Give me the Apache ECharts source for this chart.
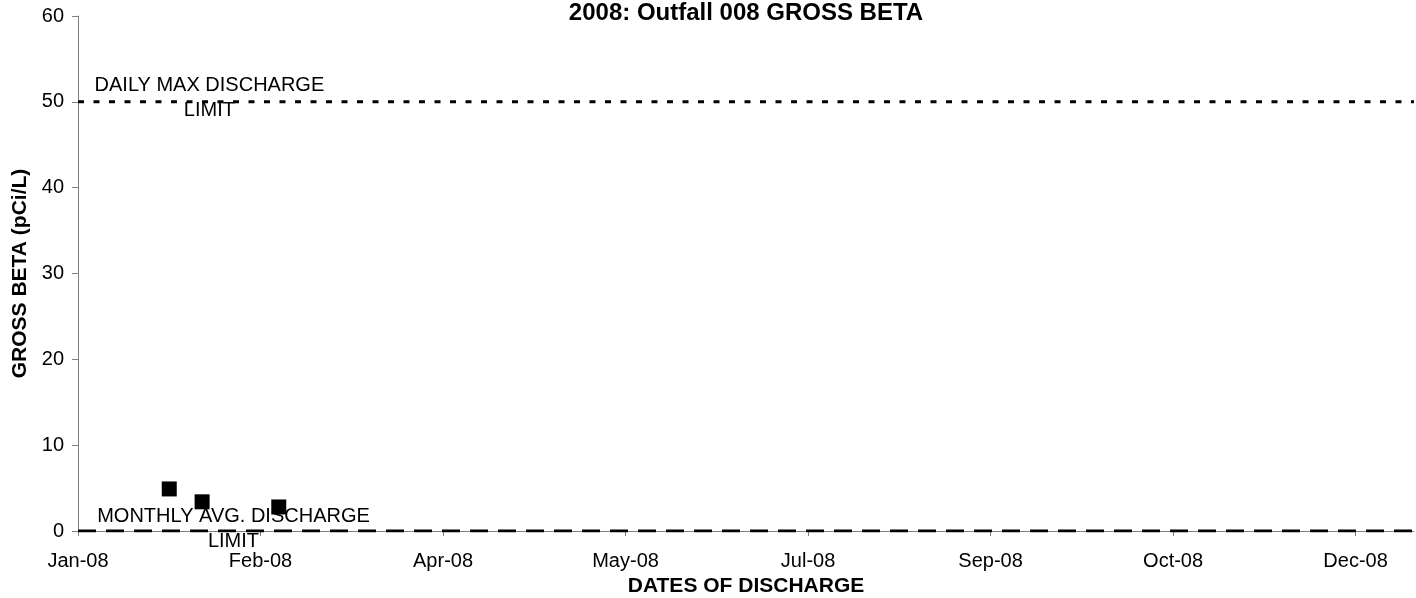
<!DOCTYPE html>
<html>
<head>
<meta charset="utf-8">
<script src="https://cdn.jsdelivr.net/npm/echarts@6/dist/echarts.min.js"></script>
<style>
  html, body { margin: 0; padding: 0; background: #fff; }
  #chart { width: 1416px; height: 598px; }
</style>
</head>
<body>
<div id="chart"></div>
<script>
// data
const sampleDates = ['2008-01-26', '2008-02-04', '2008-02-25']
const grossBeta = [4.9, 3.4, 2.8]
const xTickLabels = ['Jan-08', 'Feb-08', 'Apr-08', 'May-08', 'Jul-08', 'Sep-08', 'Oct-08', 'Dec-08']
const dailyMaxLimit = 50
const monthlyAvgLimit = 0

const FONT = '"Liberation Sans", Arial, sans-serif'
const DAY = 86400000
const start = Date.UTC(2008, 0, 1)

// days since Jan 1 2008
function dayOf(s) {
  const p = s.split('-')
  return (Date.UTC(+p[0], +p[1] - 1, +p[2]) - start) / DAY
}

const points = sampleDates.map((d, i) => [dayOf(d), grossBeta[i]])

const chart = echarts.init(document.getElementById('chart'))

// label for a limit line, centred on a day along it
const limitLabel = (txt, day, y, dy) => ({
  symbol: 'rect',
  symbolSize: 0,
  silent: true,
  data: [{
    coord: [day, y],
    label: {
      show: true,
      position: 'inside',
      offset: [0, dy],
      formatter: txt,
      color: '#000',
      fontFamily: FONT,
      fontSize: 20,
      lineHeight: 25,
      align: 'center'
    }
  }]
})

chart.setOption({
  animation: false,
  title: {
    text: '2008: Outfall 008 GROSS BETA',
    left: 741,
    top: -4,
    textAlign: 'center',
    textStyle: { fontFamily: FONT, fontSize: 24, fontWeight: 'bold', color: '#000' }
  },
  grid: { left: 78, right: 2, top: 16, bottom: 67, outerBoundsMode: 'none' },
  xAxis: {
    type: 'value',
    min: 0,
    max: 366,
    interval: 50,
    name: 'DATES OF DISCHARGE',
    nameLocation: 'middle',
    nameGap: 45,
    nameTextStyle: { fontFamily: FONT, fontSize: 21, fontWeight: 'bold', color: '#000' },
    splitLine: { show: false },
    axisLine: { lineStyle: { color: '#808080', width: 1 } },
    axisTick: { length: 5, lineStyle: { color: '#808080' } },
    axisLabel: {
      margin: 20,
      fontFamily: FONT,
      fontSize: 20,
      color: '#000',
      showMaxLabel: false,
      formatter: v => (v % 50 === 0 ? xTickLabels[v / 50] || '' : '')
    }
  },
  yAxis: {
    type: 'value',
    min: 0,
    max: 60,
    interval: 10,
    name: 'GROSS BETA (pCi/L)',
    nameLocation: 'middle',
    nameGap: 40,
    nameTextStyle: { fontFamily: FONT, fontSize: 21, fontWeight: 'bold', color: '#000' },
    splitLine: { show: false },
    axisLine: { show: true, lineStyle: { color: '#808080', width: 1 } },
    axisTick: { show: true, length: 6, lineStyle: { color: '#808080' } },
    axisLabel: { margin: 14, fontFamily: FONT, fontSize: 20, color: '#000' }
  },
  series: [
    {
      name: 'DAILY MAX DISCHARGE LIMIT',
      type: 'line',
      z: 2,
      symbol: 'none',
      data: [[0, dailyMaxLimit], [366, dailyMaxLimit]],
      lineStyle: { color: '#000', width: 3, type: [6, 9.5] },
      markPoint: limitLabel('DAILY MAX DISCHARGE\nLIMIT', 36, dailyMaxLimit, -4)
    },
    {
      name: 'MONTHLY AVG. DISCHARGE LIMIT',
      type: 'line',
      z: 2,
      symbol: 'none',
      data: [[0, monthlyAvgLimit], [366, monthlyAvgLimit]],
      lineStyle: { color: '#000', width: 3, type: [18, 10] },
      markPoint: limitLabel('MONTHLY AVG. DISCHARGE\nLIMIT', 42.6, monthlyAvgLimit, -2)
    },
    {
      name: 'GROSS BETA',
      type: 'scatter',
      z: 5,
      symbol: 'rect',
      symbolSize: 15,
      itemStyle: { color: '#000', opacity: 1 },
      data: points
    }
  ]
})
</script>
</body>
</html>
